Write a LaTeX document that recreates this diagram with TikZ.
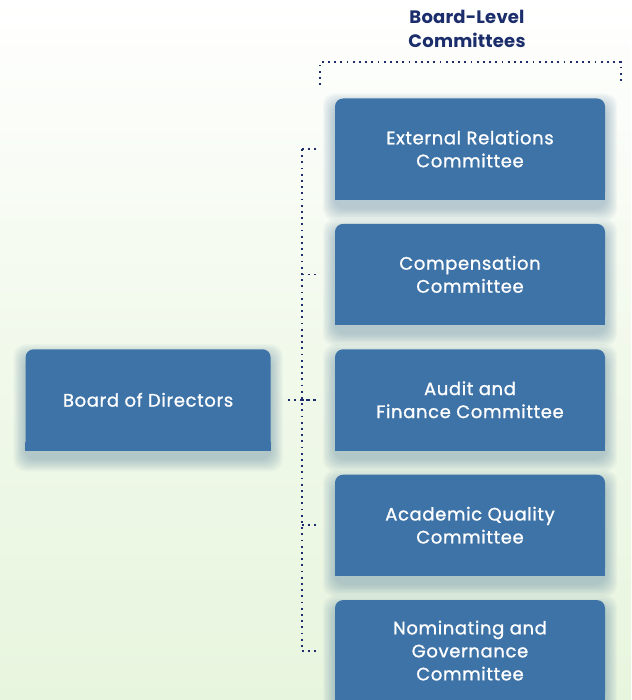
\documentclass[tikz,border=0pt]{standalone}
\usepackage{fontspec}
\setmainfont{Poppins}
\newfontfamily\boxfont{Poppins}[FakeBold=1.1, LetterSpace=3.5]
\newfontfamily\headfont{Poppins Bold}[LetterSpace=1]
\usepackage{xcolor}
\usetikzlibrary{positioning}

\definecolor{boxblue}{HTML}{3E73A7}
\definecolor{navy}{HTML}{1C2D6B}
\definecolor{bggreen}{HTML}{E8F5DE}
\definecolor{shadecol}{HTML}{4F7C9C}

\pgfdeclarelayer{bg}
\pgfdeclarelayer{shade}
\pgfsetlayers{bg,shade,main}

\begin{document}
\begin{tikzpicture}[
    x=1pt, y=-1pt,
    node distance=24pt and 64pt,
    committee/.style={rectangle, fill=boxblue, text=white, minimum width=#1, minimum height=101pt, inner sep=0pt, align=center, font=\boxfont\fontsize{18}{23}\selectfont, rounded corners=8pt},
    committee/.default=270pt,
    dotline/.style={navy, line width=1.8pt, dash pattern=on 1.8pt off 4.4pt},
    heading/.style={text=navy, font=\headfont\fontsize{18}{24}\selectfont, align=center}
]
% Canvas and background
\useasboundingbox (0,0) rectangle (631,700);
\clip (0,0) rectangle (631,700);
\begin{pgfonlayer}{bg}
\fill[top color=white, bottom color=bggreen, middle color=bggreen!60!white] (0,0) rectangle (631,700);
\end{pgfonlayer}

% Committees
\node[committee] (extrel) at (470,149) {External Relations\\Committee};
\node[committee, below=of extrel] (comp) {Compensation\\Committee};
\node[committee, below=of comp] (audit) {Audit and\\Finance Committee};
\node[committee, below=of audit] (acad) {Academic Quality\\Committee};
\node[committee, below=of acad] (nomgov) {Nominating and\\Governance\\Committee};

% Board
\node[committee=245pt, left=of audit] (board) {Board of Directors};

% square bottom corners and soft shadows
\foreach \n in {extrel,comp,audit,acad,nomgov,board}{
  \fill[boxblue] ([yshift=9pt]\n.south west) rectangle ([yshift=-0.3pt]\n.south east);
  \begin{pgfonlayer}{shade}
  \foreach \k in {1,...,10}
    \fill[shadecol, opacity=0.045, rounded corners=12pt]
      ([xshift={-1.2*\k pt}, yshift={-8pt-1.3*\k pt}]\n.south west)
      rectangle ([xshift={1.2*\k pt}, yshift={-8pt+1.3*\k pt}]\n.north east);
  \end{pgfonlayer}
}

% Heading and bracket
\node[heading] (title) at (467,29) {Board-Level\\Committees};
\coordinate (brackl) at (320,85);
\coordinate (brackr) at (621,85);
\draw[dotline] (brackl) -- ++(0,-23) -| (brackr);

% Connectors
\coordinate (bustop) at ([xshift=-33pt]extrel.west);
\coordinate (busbot) at ([xshift=-33pt]nomgov.west);
\draw[dotline] (bustop) -- (busbot);
\foreach \n in {extrel,comp,audit,acad,nomgov}
  \draw[dotline] ([xshift=-33pt]\n.west) -- ([xshift=-19pt]\n.west);
\draw[dotline] ([xshift=17pt]board.east) -- ([xshift=-19pt]audit.west);
\end{tikzpicture}
\end{document}
